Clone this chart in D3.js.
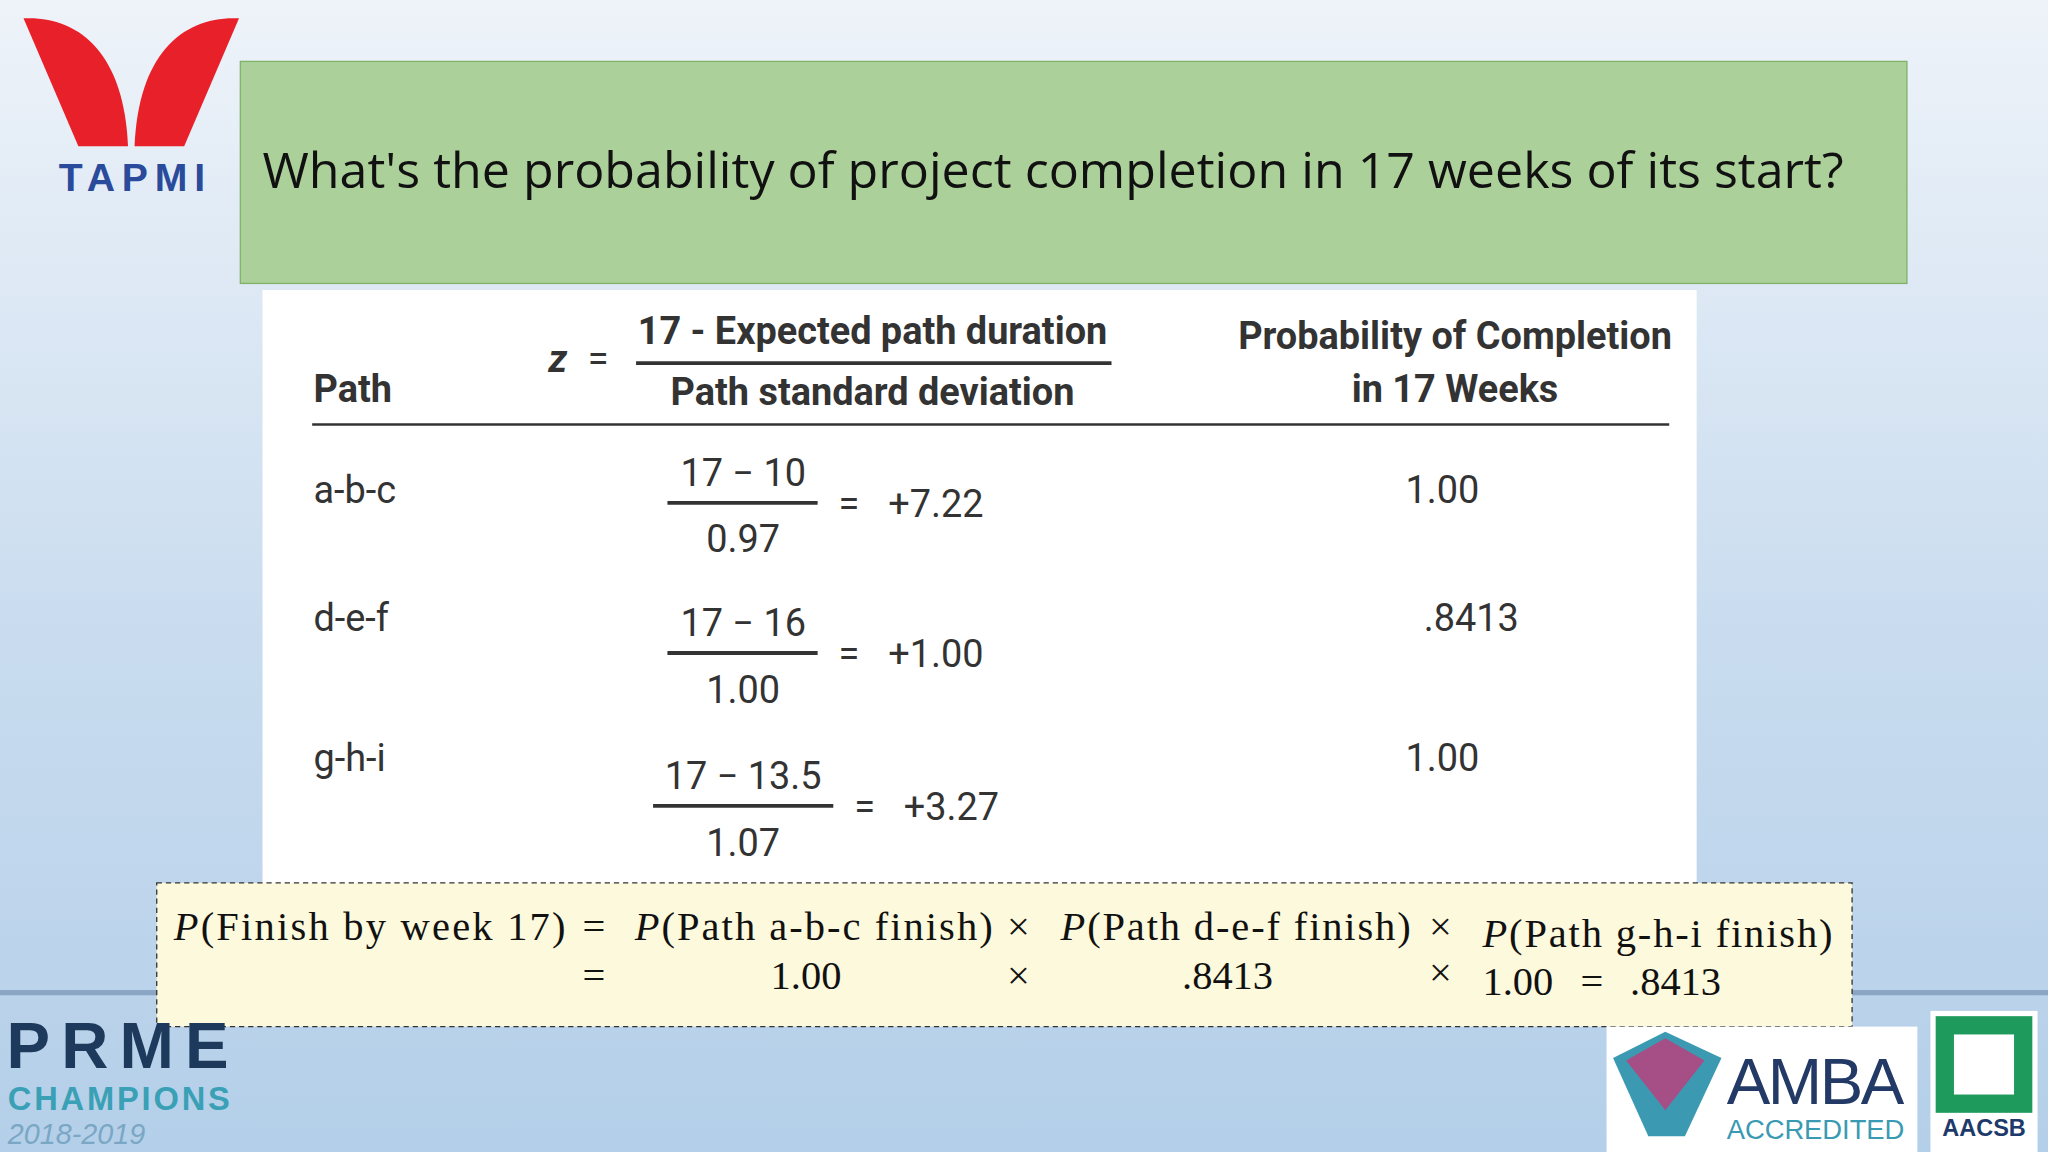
<!DOCTYPE html>
<html><head><meta charset="utf-8">
<script src="https://cdn.jsdelivr.net/npm/d3@7"></script>
<style>body{margin:0;overflow:hidden}</style>
</head><body>
<script>
// slide content
var paths = ["a-b-c", "d-e-f", "g-h-i"];
var durations = ["10", "16", "13.5"];
var stdevs = ["0.97", "1.00", "1.07"];
var zValues = ["+7.22", "+1.00", "+3.27"];
var probs = ["1.00", ".8413", "1.00"];
var rowY = [385, 500, 617];
var labelY = [385, 483, 590];

var W = 1568, H = 882;
var svg = d3.select("body").append("svg")
  .attr("width", 2048).attr("height", 1152)
  .attr("viewBox", "0 0 " + W + " " + H);

var defs = svg.append("defs");
var bg = defs.append("linearGradient").attr("id", "bg").attr("x1", 0).attr("y1", 0).attr("x2", 0).attr("y2", 1);
bg.append("stop").attr("offset", "0%").attr("stop-color", "#eef3f9");
bg.append("stop").attr("offset", "55%").attr("stop-color", "#c9dcef");
bg.append("stop").attr("offset", "100%").attr("stop-color", "#b4cfe9");
svg.append("rect").attr("width", W).attr("height", H).attr("fill", "url(#bg)");
svg.append("rect").attr("x", 0).attr("y", 758).attr("width", W).attr("height", 4).attr("fill", "#8aa6c4");

// TAPMI logo
svg.append("path").attr("d", "M18,14 C60,12 95,40 98,112 L60,112 Z").attr("fill", "#e8202a");
svg.append("path").attr("d", "M183,14 C141,12 106,40 103,112 L141,112 Z").attr("fill", "#e8202a");
svg.append("text").attr("x", 101).attr("y", 146).attr("text-anchor", "middle")
  .attr("font-family", "Liberation Sans, Arial").attr("font-weight", "bold").attr("font-size", 30)
  .attr("textLength", 112).attr("fill", "#2a4b9b").text("TAPMI");

// title box
svg.append("rect").attr("x", 184).attr("y", 47).attr("width", 1276).attr("height", 170)
  .attr("fill", "#acd09a").attr("stroke", "#7fb36a");
svg.append("text").attr("x", 201).attr("y", 144).attr("font-family", "Open Sans, Noto Sans")
  .attr("font-size", 38.4).attr("fill", "#111")
  .text("What's the probability of project completion in 17 weeks of its start?");

// table panel
svg.append("rect").attr("x", 201).attr("y", 222).attr("width", 1098).attr("height", 460).attr("fill", "#fff");
var f = "Liberation Sans Narrow, Roboto, Arial";
var g = svg.append("g").attr("font-family", f).attr("fill", "#333").attr("font-size", 29);
g.append("text").attr("x", 240).attr("y", 308).attr("font-weight", "bold").text("Path");
g.append("text").attr("x", 420).attr("y", 285).attr("font-weight", "bold").attr("font-style", "italic").text("z");
g.append("text").attr("x", 450).attr("y", 285).text("=");
g.append("text").attr("x", 668).attr("y", 263).attr("text-anchor", "middle").attr("font-weight", "bold").text("17  -  Expected path duration");
g.append("line").attr("x1", 487).attr("x2", 851).attr("y1", 278).attr("y2", 278).attr("stroke", "#333").attr("stroke-width", 3);
g.append("text").attr("x", 668).attr("y", 310).attr("text-anchor", "middle").attr("font-weight", "bold").text("Path standard deviation");
g.append("text").attr("x", 1114).attr("y", 267).attr("text-anchor", "middle").attr("font-weight", "bold").text("Probability of Completion");
g.append("text").attr("x", 1114).attr("y", 308).attr("text-anchor", "middle").attr("font-weight", "bold").text("in 17 Weeks");
g.append("line").attr("x1", 239).attr("x2", 1278).attr("y1", 325).attr("y2", 325).attr("stroke", "#333").attr("stroke-width", 2);

var rows = g.selectAll("g.row").data(paths).join("g").attr("class", "row");
rows.append("text").attr("x", 240).attr("y", function (d, i) { return labelY[i]; }).text(function (d) { return d; });
rows.append("text").attr("x", 569).attr("y", function (d, i) { return rowY[i] - 13; }).attr("text-anchor", "middle")
  .text(function (d, i) { return "17  \u2212  " + durations[i]; });
rows.append("line").attr("y1", function (d, i) { return rowY[i]; }).attr("y2", function (d, i) { return rowY[i]; })
  .attr("x1", function (d, i) { return durations[i].length > 2 ? 500 : 511; })
  .attr("x2", function (d, i) { return durations[i].length > 2 ? 638 : 626; })
  .attr("stroke", "#333").attr("stroke-width", 3);
rows.append("text").attr("x", 569).attr("y", function (d, i) { return rowY[i] + 38; }).attr("text-anchor", "middle")
  .text(function (d, i) { return stdevs[i]; });
rows.append("text").attr("y", function (d, i) { return rowY[i] + 11; })
  .attr("x", function (d, i) { return durations[i].length > 2 ? 654 : 642; })
  .text("=");
rows.append("text").attr("y", function (d, i) { return rowY[i] + 11; })
  .attr("x", function (d, i) { return durations[i].length > 2 ? 692 : 680; })
  .text(function (d, i) { return zValues[i]; });
rows.append("text").attr("x", function (d, i) { return probs[i].length > 4 ? 1090 : 1076; })
  .attr("y", function (d, i) { return labelY[i]; })
  .text(function (d, i) { return probs[i]; });

// bottom formula box
svg.append("rect").attr("x", 120).attr("y", 676).attr("width", 1298).attr("height", 110)
  .attr("fill", "#fdf9dc").attr("stroke", "#333").attr("stroke-dasharray", "4,3");
var t = svg.append("g").attr("font-family", "Liberation Serif, DejaVu Serif").attr("font-size", 31).attr("fill", "#111");
function line(x, y, parts, len) {
  var tx = t.append("text").attr("x", x).attr("y", y).attr("textLength", len);
  parts.forEach(function (p) { tx.append("tspan").attr("font-style", p[1] ? "italic" : null).text(p[0]); });
}
line(133, 720, [["P", 1], ["(Finish by week 17)"]], 300);
t.append("text").attr("x", 446).attr("y", 720).text("=");
line(486, 720, [["P", 1], ["(Path a-b-c finish)"]], 274);
t.append("text").attr("x", 771).attr("y", 720).text("\u00d7");
line(812, 720, [["P", 1], ["(Path d-e-f finish)"]], 268);
t.append("text").attr("x", 1094).attr("y", 720).text("\u00d7");
line(1135, 725, [["P", 1], ["(Path g-h-i finish)"]], 268);
t.append("text").attr("x", 446).attr("y", 757).text("=");
t.append("text").attr("x", 590).attr("y", 757).text(probs[0]);
t.append("text").attr("x", 771).attr("y", 757).text("\u00d7");
t.append("text").attr("x", 905).attr("y", 757).text(probs[1]);
t.append("text").attr("x", 1094).attr("y", 755).text("\u00d7");
t.append("text").attr("x", 1135).attr("y", 762).text(probs[2]);
t.append("text").attr("x", 1210).attr("y", 762).text("=");
t.append("text").attr("x", 1248).attr("y", 762).text(probs[1]);

// bottom logos
var lg = svg.append("g").attr("font-family", "Liberation Sans, Arial").attr("font-weight", "bold");
lg.append("text").attr("x", 5).attr("y", 818).attr("font-size", 50).attr("textLength", 170).attr("fill", "#1d3a5c").text("PRME");
lg.append("text").attr("x", 6).attr("y", 850).attr("font-size", 25).attr("textLength", 170).attr("fill", "#3aa0b5").text("CHAMPIONS");
lg.append("text").attr("x", 6).attr("y", 876).attr("font-size", 22).attr("font-style", "italic").attr("font-weight", "normal").attr("fill", "#7aa7c4").text("2018-2019");
lg.append("rect").attr("x", 1230).attr("y", 786).attr("width", 238).attr("height", 96).attr("fill", "#fff");
lg.append("path").attr("d", "M1235,810 L1275,790 L1318,810 L1290,870 L1262,870 Z").attr("fill", "#3b9ab2");
lg.append("path").attr("d", "M1245,812 L1275,795 L1305,812 L1275,850 Z").attr("fill", "#c23b7b").attr("opacity", 0.8);
lg.append("text").attr("x", 1322).attr("y", 845).attr("font-size", 50).attr("font-weight", "normal").attr("textLength", 136).attr("fill", "#233a66").text("AMBA");
lg.append("text").attr("x", 1322).attr("y", 872).attr("font-size", 21).attr("font-weight", "normal").attr("textLength", 136).attr("fill", "#3a9ab3").text("ACCREDITED");
lg.append("rect").attr("x", 1478).attr("y", 774).attr("width", 82).attr("height", 108).attr("fill", "#fff");
lg.append("rect").attr("x", 1482).attr("y", 778).attr("width", 74).attr("height", 74).attr("fill", "#1e9a5c");
lg.append("rect").attr("x", 1496).attr("y", 792).attr("width", 46).attr("height", 46).attr("fill", "#fff");
lg.append("text").attr("x", 1519).attr("y", 870).attr("text-anchor", "middle").attr("font-size", 18).attr("fill", "#1e3a6a").text("AACSB");
</script>
</body></html>
